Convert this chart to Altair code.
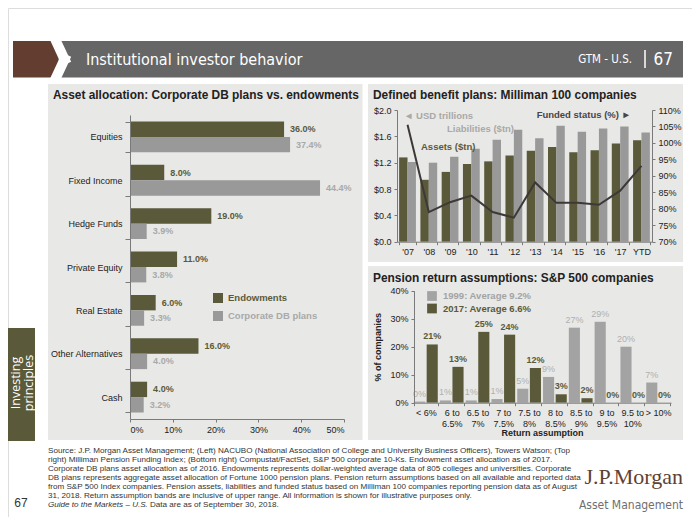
import altair as alt
import pandas as pd

W, H = 684, 509


def px(v):
    return v - 8


SANS = "Liberation Sans, Arial, Helvetica, sans-serif"
NARROW = "Liberation Sans Narrow, DejaVu Sans Condensed, Roboto Condensed, Arial Narrow, sans-serif"
SERIF = "Liberation Serif, Times New Roman, serif"
OLIVE = "#5a5a3a"
GRAY = "#999999"
LGRAY = "#a9a9a9"
PANEL = "#e8e8e6"
DARK = "#222222"
LINEC = "#3e3838"

# ---------------- data ----------------
alloc_categories = ["Equities", "Fixed Income", "Hedge Funds", "Private Equity",
                    "Real Estate", "Other Alternatives", "Cash"]
alloc_series = ["Endowments", "Corporate DB plans"]
endow_pct = [36.0, 8.0, 19.0, 11.0, 6.0, 16.0, 4.0]
db_pct = [37.4, 44.4, 3.9, 3.8, 3.3, 4.0, 3.2]

years = ["'07", "'08", "'09", "'10", "'11", "'12", "'13", "'14", "'15", "'16", "'17", "YTD"]
db_series = ["Assets", "Liabilities"]
assets = [1.28, 0.94, 1.06, 1.18, 1.22, 1.31, 1.38, 1.44, 1.36, 1.39, 1.49, 1.54]
liabilities = [1.21, 1.20, 1.29, 1.41, 1.55, 1.70, 1.57, 1.76, 1.67, 1.72, 1.75, 1.66]
funded = [105.5, 79.0, 82.0, 84.0, 79.0, 77.3, 88.0, 81.8, 81.8, 81.2, 85.5, 93.0]

ret_bands = ["< 6%", "6 to 6.5%", "6.5 to 7%", "7 to 7.5%", "7.5 to 8%",
             "8 to 8.5%", "8.5 to 9%", "9 to 9.5%", "9.5 to 10%", "> 10%"]
ret_series = ["1999: Average 9.2%", "2017: Average 6.6%"]
pct_1999 = [0.4, 0.8, 0.8, 1.3, 5.0, 9.2, 26.8, 28.9, 20.0, 7.2]
pct_2017 = [20.8, 12.8, 25.3, 24.3, 12.4, 3.0, 1.6, 0.0, 0.0, 0.0]

footnote = [
    "Source: J.P. Morgan Asset Management; (Left) NACUBO (National Association of College and University Business Officers), Towers Watson; (Top",
    "right) Milliman Pension Funding Index; (Bottom right) Compustat/FactSet, S&P 500 corporate 10-Ks. Endowment asset allocation as of 2017.",
    "Corporate DB plans asset allocation as of 2016. Endowments represents dollar-weighted average data of 805 colleges and universities. Corporate",
    "DB plans represents aggregate asset allocation of Fortune 1000 pension plans. Pension return assumptions based on all available and reported data",
    "from S&P 500 Index companies. Pension assets, liabilities and funded status based on Milliman 100 companies reporting pension data as of August",
    "31, 2018. Return assumption bands are inclusive of upper range. All information is shown for illustrative purposes only.",
]

# ---------------- tables ----------------
alloc_df = pd.DataFrame(
    [{"category": c, "series": alloc_series[0], "value": e / 100} for c, e in zip(alloc_categories, endow_pct)]
    + [{"category": c, "series": alloc_series[1], "value": d / 100} for c, d in zip(alloc_categories, db_pct)]
)
db_df = pd.DataFrame(
    [{"year": y, "series": "Assets", "value": a} for y, a in zip(years, assets)]
    + [{"year": y, "series": "Liabilities", "value": l} for y, l in zip(years, liabilities)]
)
funded_df = pd.DataFrame({"year": years, "funded": [f / 100 for f in funded]})
ret_df = pd.DataFrame(
    [{"band": b, "series": ret_series[0], "value": v / 100} for b, v in zip(ret_bands, pct_1999)]
    + [{"band": b, "series": ret_series[1], "value": v / 100} for b, v in zip(ret_bands, pct_2017)]
)
ONE = pd.DataFrame({"a": [0]})

AXBASE = dict(labelFont=SANS, labelFontSize=9, labelColor=DARK, domainColor="#7a7a7a",
              tickColor="#7a7a7a", grid=False, zindex=1)
AX = dict(AXBASE, title=None)


def box(x1, y1, x2, y2, color):
    return alt.Chart(ONE).mark_rect(color=color).encode(
        x=alt.value(px(x1)), x2=alt.value(px(x2)), y=alt.value(px(y1)), y2=alt.value(px(y2)))


def seg(x1, y1, x2, y2, color, w, cap="square"):
    return alt.Chart(ONE).mark_rule(color=color, strokeWidth=w, strokeCap=cap).encode(
        x=alt.value(px(x1)), x2=alt.value(px(x2)), y=alt.value(px(y1)), y2=alt.value(px(y2)))


def label(text, x, y, size=9, color=DARK, weight="normal", align="left", font=SANS,
          angle=0, style="normal", baseline="middle", lh=None):
    kw = dict(text=text, align=align, baseline=baseline, fontSize=size, color=color,
              fontWeight=weight, font=font, fontStyle=style)
    if angle:
        kw["angle"] = angle
    if lh:
        kw["lineHeight"] = lh
        kw["lineBreak"] = "\n"
    return alt.Chart(ONE).mark_text(**kw).encode(x=alt.value(px(x)), y=alt.value(px(y)))


# ---------------- left: asset allocation ----------------
alloc_x = alt.X("value:Q",
                scale=alt.Scale(domain=[0, 0.5], range=[px(130), px(344)], nice=False),
                axis=alt.Axis(orient="bottom", offset=-(H - px(419)), values=[0, 0.1, 0.2, 0.3, 0.4, 0.5],
                              format=".0%", tickSize=3, labelPadding=3, **AX))
alloc_y = alt.Y("category:N",
                scale=alt.Scale(domain=alloc_categories, range=[px(115), px(419)],
                                paddingInner=0.29, paddingOuter=0.15),
                axis=alt.Axis(orient="left", offset=-px(130), tickBand="extent", tickSize=5,
                              labelPadding=3, **AX))
alloc_yo = alt.YOffset("series:N", scale=alt.Scale(domain=alloc_series, paddingInner=0, paddingOuter=0))
is_endow = alt.datum.series == "Endowments"

alloc_bars = alt.Chart(alloc_df).mark_bar().encode(
    x=alloc_x, y=alloc_y, yOffset=alloc_yo,
    color=alt.condition(is_endow, alt.value(OLIVE), alt.value(GRAY)))
alloc_text = alt.Chart(alloc_df).mark_text(align="left", baseline="middle", dx=6, fontSize=9,
                                           fontWeight="bold", font=SANS).encode(
    x=alloc_x, y=alloc_y, yOffset=alloc_yo, text=alt.Text("value:Q", format=".1%"),
    color=alt.condition(is_endow, alt.value(OLIVE), alt.value(LGRAY)))
alloc_layer = alt.layer(alloc_bars, alloc_text)

leg1_df = pd.DataFrame({"series": alloc_series})
leg1_y = alt.Y("series:N", scale=alt.Scale(type="point", domain=alloc_series, range=[px(298), px(316)],
                                           padding=0), axis=None)
leg1_sq = alt.Chart(leg1_df).mark_square(size=100, opacity=1).encode(
    x=alt.value(px(218)), y=leg1_y, color=alt.condition(is_endow, alt.value(OLIVE), alt.value(GRAY)))
leg1_tx = alt.Chart(leg1_df).mark_text(align="left", baseline="middle", fontSize=9.5,
                                       fontWeight="bold", font=SANS).encode(
    x=alt.value(px(228)), y=leg1_y, text="series:N",
    color=alt.condition(is_endow, alt.value(OLIVE), alt.value(LGRAY)))

# ---------------- top right: Milliman ----------------
db_x = alt.X("year:N",
             scale=alt.Scale(domain=years, range=[px(397), px(652)], paddingInner=0.21, paddingOuter=0.1),
             axis=alt.Axis(orient="bottom", offset=-(H - px(241.7)), labelAngle=0, tickBand="extent",
                           tickSize=3, labelPadding=3, **AX))
db_y = alt.Y("value:Q",
             scale=alt.Scale(domain=[0, 2], range=[px(241.7), px(110)], nice=False),
             axis=alt.Axis(orient="left", offset=-px(397), values=[0, 0.4, 0.8, 1.2, 1.6, 2.0],
                           format="$.1f", tickSize=3, labelPadding=3, **AX))
db_bars = alt.Chart(db_df).mark_bar().encode(
    x=db_x, y=db_y,
    xOffset=alt.XOffset("series:N", scale=alt.Scale(domain=db_series, paddingInner=0, paddingOuter=0)),
    color=alt.condition(alt.datum.series == "Assets", alt.value(OLIVE), alt.value(GRAY)))
db_line = alt.Chart(funded_df).mark_line(color=LINEC, strokeWidth=2).encode(
    x=db_x,
    y=alt.Y("funded:Q",
            scale=alt.Scale(domain=[0.7, 1.1], range=[px(241.7), px(110)], nice=False, zero=False),
            axis=alt.Axis(orient="right", offset=-(W - px(652)),
                          values=[0.7, 0.75, 0.8, 0.85, 0.9, 0.95, 1.0, 1.05, 1.1],
                          format=".0%", tickSize=3, labelPadding=3, **AX)))
db_layer = alt.layer(db_bars, db_line).resolve_scale(y="independent").resolve_axis(y="independent")

# ---------------- bottom right: return assumptions ----------------
ret_x = alt.X("band:N",
              scale=alt.Scale(domain=ret_bands, range=[px(413), px(671)], paddingInner=0.08, paddingOuter=0.04),
              axis=alt.Axis(orient="bottom", offset=-(H - px(402.7)), labelAngle=0, tickBand="extent",
                            tickSize=3, labelPadding=3, labelLineHeight=11, labelBaseline="top",
                            labelExpr="indexof(datum.label, ' to ') > 0 ? [slice(datum.label, 0, indexof(datum.label, ' to ') + 3), slice(datum.label, indexof(datum.label, ' to ') + 4)] : datum.label",
                            title="Return assumption", titleFont=SANS, titleFontSize=9,
                            titleFontWeight="bold", titleColor=DARK, titlePadding=0, **AXBASE))
ret_y = alt.Y("value:Q",
              scale=alt.Scale(domain=[0, 0.4], range=[px(402.7), px(290.7)], nice=False),
              axis=alt.Axis(orient="left", offset=-px(414), values=[0, 0.1, 0.2, 0.3, 0.4], format=".0%",
                            tickSize=3, labelPadding=3,
                            title="% of companies", titleFont=SANS, titleFontSize=9,
                            titleFontWeight="bold", titleColor=DARK, titlePadding=7, **AXBASE))
ret_xo = alt.XOffset("series:N", scale=alt.Scale(domain=ret_series, paddingInner=0.12, paddingOuter=0))
is_1999 = alt.datum.series == ret_series[0]
ret_bars = alt.Chart(ret_df).mark_bar().encode(
    x=ret_x, y=ret_y, xOffset=ret_xo,
    color=alt.condition(is_1999, alt.value("#a3a3a3"), alt.value(OLIVE)))
ret_t99 = alt.Chart(ret_df).transform_filter(is_1999).mark_text(
    baseline="middle", dy=-8, fontSize=9, font=SANS, color="#b0b0b0").encode(
    x=ret_x, y=ret_y, xOffset=ret_xo, text=alt.Text("value:Q", format=".0%"))
ret_t17 = alt.Chart(ret_df).transform_filter(~is_1999).mark_text(
    baseline="middle", dy=-8, fontSize=9, font=SANS, fontWeight="bold", color=OLIVE).encode(
    x=ret_x, y=ret_y, xOffset=ret_xo, text=alt.Text("value:Q", format=".0%"))
ret_layer = alt.layer(ret_bars, ret_t99, ret_t17)

leg2_df = pd.DataFrame({"series": ret_series})
leg2_y = alt.Y("series:N", scale=alt.Scale(type="point", domain=ret_series, range=[px(296), px(308.5)],
                                           padding=0), axis=None)
leg2_sq = alt.Chart(leg2_df).mark_square(size=95, opacity=1).encode(
    x=alt.value(px(432)), y=leg2_y, color=alt.condition(is_1999, alt.value("#a3a3a3"), alt.value(OLIVE)))
leg2_tx = alt.Chart(leg2_df).mark_text(align="left", baseline="middle", fontSize=9.5,
                                       fontWeight="bold", font=SANS).encode(
    x=alt.value(px(443)), y=leg2_y, text="series:N",
    color=alt.condition(is_1999, alt.value("#a3a3a3"), alt.value(OLIVE)))

# ---------------- decoration / text ----------------
decor = [
    box(13, 41, 60, 77.6, "#633e30"),
    box(58, 41, 683, 77.6, "#666666"),
    seg(56, 41, 64.5, 59.3, "white", 10),
    seg(64.5, 59.3, 56, 77.6, "white", 10),
    box(48, 84, 362.5, 440, PANEL),
    box(368, 84, 683, 262, PANEL),
    box(368, 266, 683, 440, PANEL),
    box(8, 328, 35, 441, "#5a5a3a"),
]
texts = [
    label("Institutional investor behavior", 86, 59.5, size=16, color="white", font=NARROW),
    label("GTM - U.S.", 632, 60, size=11.5, color="white", font=NARROW, align="right"),
    seg(645, 50, 645, 68, "white", 1.5, cap="butt"),
    label("67", 673, 59.5, size=17, color="white", font=NARROW, align="right"),
    label("Asset allocation: Corporate DB plans vs. endowments", 53, 95, size=11.9, weight="bold"),
    label("Defined benefit plans: Milliman 100 companies", 373, 95, size=11.9, weight="bold"),
    label("Pension return assumptions: S&P 500 companies", 373, 278, size=11.9, weight="bold"),
    label("◄ USD trillions", 404, 116, size=9.5, color=LGRAY, weight="bold"),
    label("Funded status (%) ►", 631, 114.5, size=9.5, color="#4a4444", weight="bold", align="right"),
    label("Liabilities ($tn)", 447, 129, size=9.5, color=LGRAY, weight="bold"),
    label("Assets ($tn)", 421, 147, size=9.5, color=OLIVE, weight="bold"),
    label("Investing", 16, 383, size=12.5, color="white", font="Open Sans, Noto Sans, sans-serif", angle=270, align="center"),
    label("principles", 28.5, 383, size=12.5, color="white", font="Open Sans, Noto Sans, sans-serif", angle=270, align="center"),
    label("67", 21, 503, size=12, color="#333333", align="center"),
    label("\n".join(footnote), 48, 451, size=8.1, color="#333333", lh=9, baseline="middle"),
    label("Guide to the Markets – U.S.", 48, 505, size=8.1, color="#333333", style="italic"),
    label("Data are as of September 30, 2018.", 150, 505, size=8.1, color="#333333"),
    label("J.P.Morgan", 683, 484, size=22, color="#5e4234", font=SERIF, align="right", baseline="alphabetic"),
    label("Asset Management", 683, 505, size=12, color="#6f6f6f", font=NARROW, align="right"),
]

chart = alt.layer(
    *decor,
    alloc_layer, leg1_sq, leg1_tx,
    db_layer,
    ret_layer, leg2_sq, leg2_tx,
    *texts,
).resolve_scale(
    x="independent", y="independent", xOffset="independent", yOffset="independent", color="independent"
).resolve_axis(
    x="independent", y="independent"
).properties(
    width=W, height=H, padding=0, autosize=alt.AutoSizeParams(type="none")
).configure_view(stroke=None).configure(background="white")

chart.save("out.html", embed_options={"renderer": "svg", "actions": False})
